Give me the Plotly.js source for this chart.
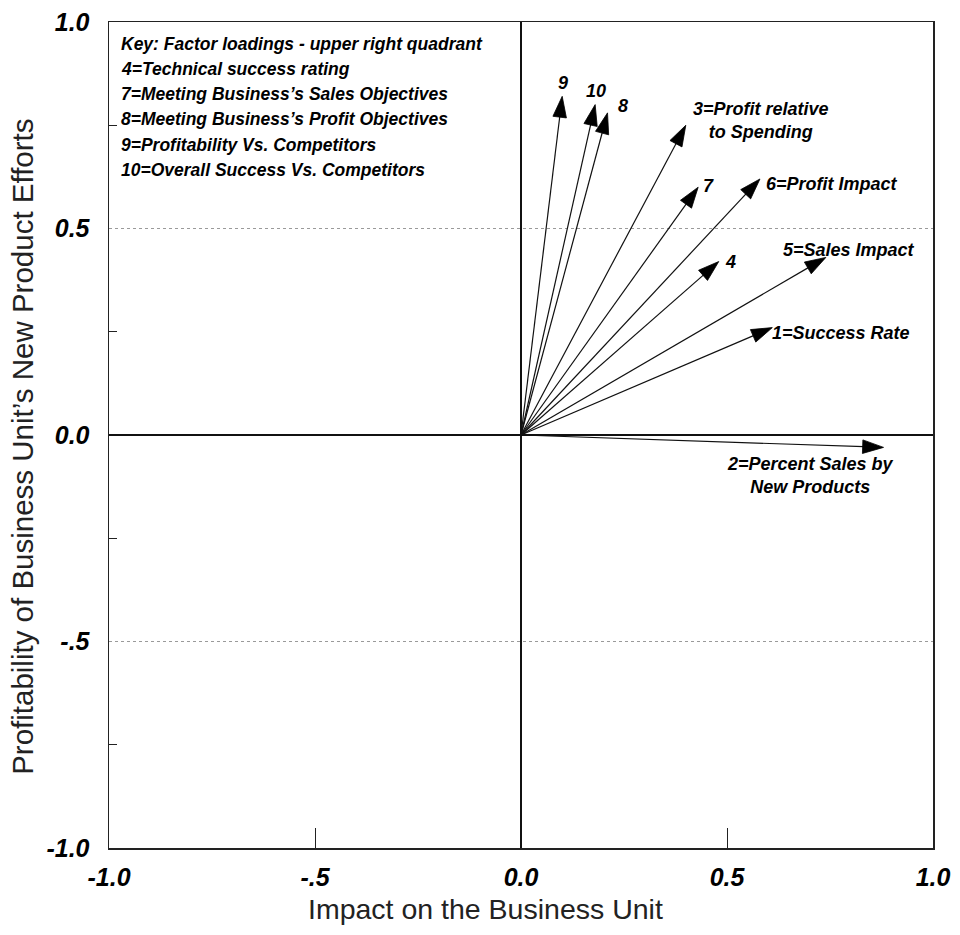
<!DOCTYPE html>
<html>
<head>
<meta charset="utf-8">
<script src="https://cdn.plot.ly/plotly-3.0.1.min.js"></script>
<style>html,body{margin:0;padding:0;background:#fff;}#chart{width:960px;height:935px;}</style>
</head>
<body>
<div id="chart"></div>
<script>
// ---- data (factor loadings) ----
var varIds = ['1', '2', '3', '4', '5', '6', '7', '8', '9', '10'];
var impactLoadings = [0.61, 0.88, 0.40, 0.48, 0.74, 0.58, 0.43, 0.21, 0.10, 0.18];
var profitLoadings = [0.26, -0.03, 0.75, 0.42, 0.43, 0.62, 0.60, 0.78, 0.82, 0.80];
var arrowLabels = ['1=Success Rate', '2=Percent Sales by<br>New Products', '3=Profit relative<br>to Spending',
  '4', '5=Sales Impact', '6=Profit Impact', '7', '8', '9', '10'];
var keyLines = ['Key: Factor loadings - upper right quadrant',
  '4=Technical success rating',
  "7=Meeting Business\u2019s Sales Objectives",
  "8=Meeting Business\u2019s Profit Objectives",
  '9=Profitability Vs. Competitors',
  '10=Overall Success Vs. Competitors'];
var tickVals = [-1, -0.5, 0, 0.5, 1];
var tickText = ['-1.0', '-.5', '0.0', '0.5', '1.0'];
var xTitle = 'Impact on the Business Unit';
var yTitle = "Profitability of Business Unit\u2019s New Product Efforts";

// ---- label placement (pixel offsets from arrow tip) ----
var labelPlacement = [
  {xa: 'left', dx: -2, dy: -5},
  {xa: 'center', dx: -73, dy: -28},
  {xa: 'center', dx: 75, dy: 5},
  {xa: 'center', dx: 12, dy: 0},
  {xa: 'left', dx: -45, dy: 7},
  {xa: 'left', dx: 4, dy: -5},
  {xa: 'center', dx: 10, dy: 1},
  {xa: 'center', dx: 15, dy: 7},
  {xa: 'center', dx: 1, dy: 13},
  {xa: 'center', dx: 1, dy: 14}
];

var FONT = 'Liberation Sans, Arial, Helvetica, sans-serif';
var boldItal = function (s) { return {family: FONT, size: s, color: '#000', weight: 'bold', style: 'italic'}; };

var traces = [];
for (var i = 0; i < varIds.length; i++) {
  traces.push({
    type: 'scatter', mode: 'lines+markers',
    x: [0, impactLoadings[i]], y: [0, profitLoadings[i]],
    name: varIds[i],
    line: {color: '#111', width: 1.2},
    marker: {symbol: 'arrow', size: [0, 22], angleref: 'previous', color: '#000', opacity: 1,
             line: {width: 0.8, color: '#000'}},
    hoverinfo: 'skip', showlegend: false, cliponaxis: false
  });
}

var annotations = [];
for (var j = 0; j < varIds.length; j++) {
  var p = labelPlacement[j];
  annotations.push({
    x: impactLoadings[j], y: profitLoadings[j], xref: 'x', yref: 'y',
    text: arrowLabels[j], showarrow: false, xanchor: p.xa, yanchor: 'middle',
    xshift: p.dx, yshift: p.dy, align: 'center', font: boldItal(18)
  });
}
var keyTop = 0.9738, keyStep = 0.0306;
for (var k = 0; k < keyLines.length; k++) {
  annotations.push({
    x: 0.012, y: keyTop - k * keyStep, xref: 'paper', yref: 'paper',
    text: keyLines[k], showarrow: false, xanchor: 'left', yanchor: 'middle',
    align: 'left', font: boldItal(17.5)
  });
}
annotations.push({
  x: 0.4575, y: -0.074, xref: 'paper', yref: 'paper', text: xTitle, showarrow: false,
  xanchor: 'center', yanchor: 'middle', font: {family: FONT, size: 28.5, color: '#222'}
});
annotations.push({
  x: -0.1045, y: 0.4855, xref: 'paper', yref: 'paper', text: yTitle, showarrow: false,
  textangle: -90, xanchor: 'center', yanchor: 'middle', font: {family: FONT, size: 29.5, color: '#222'}
});

var layout = {
  width: 960, height: 935,
  margin: {l: 109, r: 27, t: 22, b: 87},
  paper_bgcolor: '#fff', plot_bgcolor: '#fff',
  showlegend: false,
  xaxis: {
    range: [-1, 1], fixedrange: true,
    tickmode: 'array', tickvals: tickVals, ticktext: tickText,
    ticks: '', tickfont: boldItal(25), ticklabelstandoff: 6,
    showgrid: false,
    zeroline: true, zerolinecolor: '#111', zerolinewidth: 1.2,
    showline: true, mirror: true, linecolor: '#222', linewidth: 1.5,
    minor: {tickmode: 'array', tickvals: [-0.5, 0.5], ticks: 'inside', ticklen: 20, tickcolor: '#222', tickwidth: 1, showgrid: false}
  },
  yaxis: {
    range: [-1, 1], fixedrange: true,
    tickmode: 'array', tickvals: tickVals, ticktext: tickText,
    ticks: '', tickfont: boldItal(25), ticklabelstandoff: 13,
    showgrid: true, gridcolor: '#9a9a9a', gridwidth: 1, griddash: 'dot',
    zeroline: true, zerolinecolor: '#111', zerolinewidth: 1.2,
    showline: true, mirror: true, linecolor: '#222', linewidth: 1.5,
    minor: {tickmode: 'array', tickvals: [-0.75, -0.25, 0.25, 0.75], ticks: 'inside', ticklen: 8, tickcolor: '#222', tickwidth: 1, showgrid: false}
  },
  annotations: annotations
};

Plotly.newPlot('chart', traces, layout, {displayModeBar: false, staticPlot: true});
</script>
</body>
</html>
